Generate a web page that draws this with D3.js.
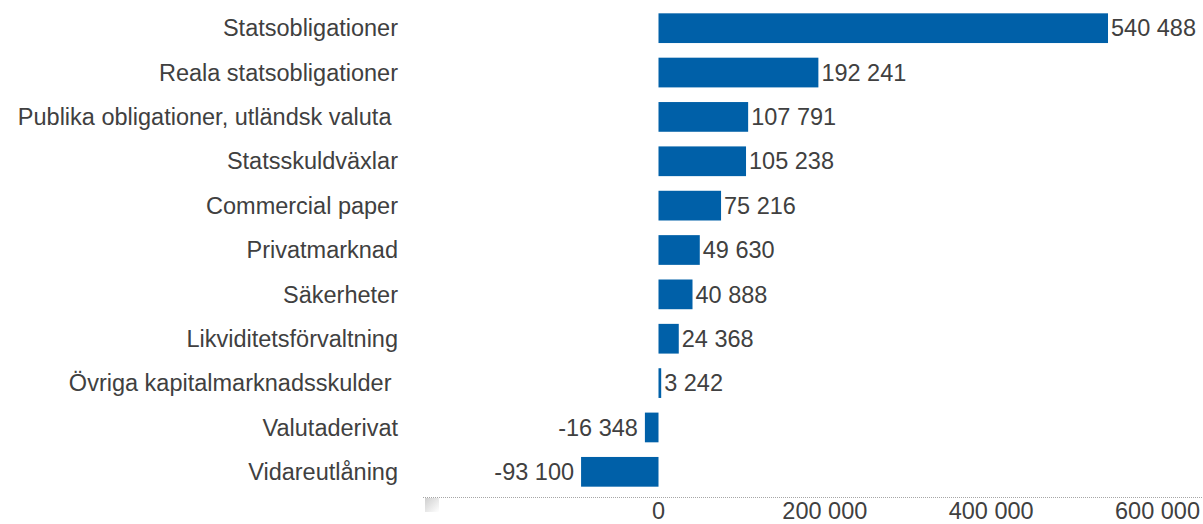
<!DOCTYPE html>
<html>
<head>
<meta charset="utf-8">
<script src="https://cdn.jsdelivr.net/npm/d3@7.9.0/dist/d3.min.js"></script>
<style>
  body { margin: 0; background: #fff; }
  text { font-family: "Liberation Sans", Arial, sans-serif; fill: #404040; white-space: pre; }
</style>
</head>
<body>
<svg id="chart" width="1203" height="524"></svg>
<script>
const categories = [
  'Statsobligationer',
  'Reala statsobligationer',
  'Publika obligationer, utländsk valuta ',
  'Statsskuldväxlar',
  'Commercial paper',
  'Privatmarknad',
  'Säkerheter',
  'Likviditetsförvaltning',
  'Övriga kapitalmarknadsskulder ',
  'Valutaderivat',
  'Vidareutlåning'
];
const values = [540488, 192241, 107791, 105238, 75216, 49630, 40888, 24368, 3242, -16348, -93100];
const ticks = [0, 200000, 400000, 600000];

const svg = d3.select('#chart');
const fmt = (v) => d3.format(',')(v).replace(/,/g, ' ').replace('\u2212', '-');

const x = d3.scaleLinear().domain([0, 600000]).range([658.5, 1157.5]);
const y = d3.scaleBand().domain(categories).range([6, 494]).paddingInner(0.33).paddingOuter(0.165);

// axis line
svg.append('line')
  .attr('x1', 423).attr('x2', 1203)
  .attr('y1', 497.5).attr('y2', 497.5)
  .attr('stroke', '#a6a6a6')
  .attr('stroke-dasharray', '1,1');

const defs = svg.append('defs');
const grad = defs.append('linearGradient').attr('id', 'fade').attr('x1', 0).attr('x2', 1).attr('y1', 0).attr('y2', 1);
grad.append('stop').attr('offset', 0).attr('stop-color', '#cfcfcf');
grad.append('stop').attr('offset', 1).attr('stop-color', '#ffffff');
svg.append('rect').attr('x', 425).attr('y', 498).attr('width', 14).attr('height', 14).attr('fill', 'url(#fade)');

svg.selectAll('.tick')
  .data(ticks)
  .join('text')
  .attr('class', 'tick')
  .attr('x', (d) => x(d))
  .attr('y', 519)
  .attr('text-anchor', 'middle')
  .attr('font-size', 23.5)
  .text(fmt);

svg.selectAll('.bar')
  .data(values)
  .join('rect')
  .attr('class', 'bar')
  .attr('x', (d) => Math.min(x(d), x(0)))
  .attr('y', (d, i) => y(categories[i]))
  .attr('width', (d) => Math.max(2.5, Math.abs(x(d) - x(0))))
  .attr('height', y.bandwidth())
  .attr('fill', '#0060a8');

svg.selectAll('.cat')
  .data(categories)
  .join('text')
  .attr('class', 'cat')
  .attr('x', 398)
  .attr('y', (d) => y(d) + y.bandwidth() / 2)
  .attr('dy', '0.35em')
  .attr('text-anchor', 'end')
  .attr('font-size', 23.5)
  .text((d) => d);

svg.selectAll('.val')
  .data(values)
  .join('text')
  .attr('class', 'val')
  .attr('x', (d) => d >= 0 ? Math.max(x(d), x(0) + 2.5) + 3 : x(d) - 7)
  .attr('y', (d, i) => y(categories[i]) + y.bandwidth() / 2)
  .attr('dy', '0.35em')
  .attr('text-anchor', (d) => d >= 0 ? 'start' : 'end')
  .attr('font-size', 23.5)
  .text(fmt);
</script>
</body>
</html>
